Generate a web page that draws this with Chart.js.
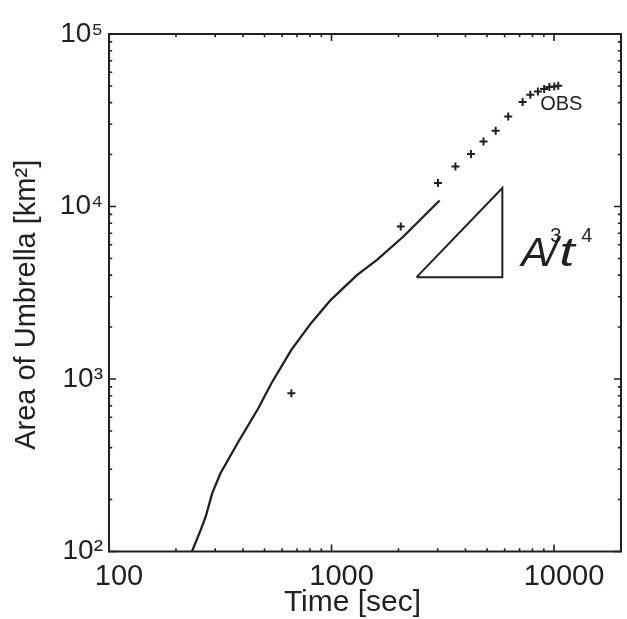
<!DOCTYPE html>
<html><head><meta charset="utf-8">
<script src="https://cdn.jsdelivr.net/npm/chart.js@4.4.0/dist/chart.umd.min.js"></script>
<style>html,body{margin:0;padding:0;background:#fff;overflow:hidden}#wrap{width:627px;height:619px}</style>
</head><body><div id="wrap"><canvas id="c" width="627" height="619"></canvas></div>
<script>
// ---- data ----
const modelTime = [236, 258, 272, 291, 317, 382, 469, 537, 660, 809, 993, 1305, 1601, 2104, 3061];
const modelArea = [100, 133, 159, 218, 284, 434, 677, 945, 1475, 2107, 2876, 4016, 4909, 6699, 10835];
const obsTime = [660, 2047, 3011, 3606, 4233, 4821, 5468, 6226, 7228, 7823, 8465, 9028, 9530, 10030, 10450];
const obsArea = [827, 7656, 13670, 17060, 20140, 23830, 27490, 33270, 40330, 44450, 46460, 47970, 49270, 49660, 50120];
const slopeTime = [2412, 5858, 5858, 2412];
const slopeArea = [3895, 12785, 3895, 3895];
const xTicks = [100, 1000, 10000];
const xTickLabels = ['100', '1000', '10000'];
const yTicks = [100, 1000, 10000, 100000];
const yTickLabels = ['10\u00B2', '10\u00B3', '10\u2074', '10\u2075'];

const INK = '#231f20';
const FONT = "'Liberation Sans', Arial, Helvetica, sans-serif";
const pts = (xs, ys) => xs.map((v, i) => ({x: v, y: ys[i]}));

const framePlugin = {
  id: 'frame',
  afterDatasetsDraw(chart) {
    const {ctx, chartArea: a, scales: {x, y}} = chart;
    ctx.save();
    ctx.strokeStyle = INK;
    ctx.lineWidth = 2;
    ctx.strokeRect(a.left, a.top, a.right - a.left, a.bottom - a.top);
    ctx.lineWidth = 1.6;
    ctx.beginPath();
    for (let k = 2; k <= 4; k++) for (let m = 1; m <= 9; m++) {
      const v = m * Math.pow(10, k);
      if (v < x.min || v > x.max) continue;
      const p = x.getPixelForValue(v), L = m === 1 ? 7 : 3.2;
      ctx.moveTo(p, a.bottom); ctx.lineTo(p, a.bottom - L);
      ctx.moveTo(p, a.top); ctx.lineTo(p, a.top + L);
    }
    for (let k = 2; k <= 5; k++) for (let m = 1; m <= 9; m++) {
      const v = m * Math.pow(10, k);
      if (v < y.min || v > y.max) continue;
      const p = y.getPixelForValue(v), L = m === 1 ? 7 : 3.2;
      ctx.moveTo(a.left, p); ctx.lineTo(a.left + L, p);
      ctx.moveTo(a.right, p); ctx.lineTo(a.right - L, p);
    }
    ctx.stroke();

    // annotations
    ctx.fillStyle = INK;
    ctx.textAlign = 'left';
    const ox = x.getPixelForValue(8664), oy = y.getPixelForValue(38900);
    ctx.font = "20px " + FONT;
    ctx.textBaseline = 'middle';
    ctx.fillText('OBS', ox, oy);

    ctx.textBaseline = 'alphabetic';
    const ax = x.getPixelForValue(7205), by = y.getPixelForValue(4500);
    ctx.font = "italic 41px " + FONT;
    ctx.fillText('A', ax - 1, by);
    ctx.fillText('/', ax + 24, by);
    ctx.save();
    ctx.translate(ax + 37, by);
    ctx.scale(1.35, 1);
    ctx.fillText('t', 0, 0);
    ctx.restore();
    ctx.font = "20px " + FONT;
    ctx.fillText('3', ax + 28, by - 24);
    ctx.fillText('4', ax + 59, by - 24);
    ctx.restore();
  }
};

new Chart(document.getElementById('c'), {
  type: 'scatter',
  data: {
    datasets: [
      {label: 'Model', data: pts(modelTime, modelArea), showLine: true, borderColor: INK, borderWidth: 2.3,
       pointRadius: 0, tension: 0, fill: false},
      {label: 'OBS', data: pts(obsTime, obsArea), showLine: false, pointStyle: 'cross', pointRadius: 4,
       borderColor: INK, backgroundColor: INK, borderWidth: 2},
      {label: 'Slope', data: pts(slopeTime, slopeArea), showLine: true, borderColor: INK, borderWidth: 2,
       pointRadius: 0, tension: 0, fill: false, borderJoinStyle: 'miter'}
    ]
  },
  options: {
    responsive: false, animation: false, devicePixelRatio: 1,
    layout: {padding: {top: 34, right: 1, left: 0, bottom: 0}},
    plugins: {legend: {display: false}, tooltip: {enabled: false}},
    scales: {
      x: {
        type: 'logarithmic', min: 100, max: 20000, position: 'bottom',
        afterBuildTicks: s => { s.ticks = xTicks.map(v => ({value: v})); },
        afterFit: s => { s.height = 67.5; },
        grid: {display: false, drawTicks: false}, border: {display: false},
        ticks: {
          callback: v => { const i = xTicks.indexOf(v); return i >= 0 ? xTickLabels[i] : ''; },
          font: {family: FONT, size: 29}, color: INK, padding: 8, labelOffset: 10,
          maxRotation: 0, autoSkip: false
        },
        title: {display: true, text: 'Time [sec]   ', font: {family: FONT, size: 30, lineHeight: 1},
                color: INK, padding: {top: 0, bottom: 1.5}}
      },
      y: {
        type: 'logarithmic', min: 100, max: 100000, position: 'left',
        afterBuildTicks: s => { s.ticks = yTicks.map(v => ({value: v})); },
        afterFit: s => { s.width = 109; },
        grid: {display: false, drawTicks: false}, border: {display: false},
        ticks: {
          callback: v => { const i = yTicks.indexOf(v); return i >= 0 ? yTickLabels[i] : ''; },
          font: {family: FONT, size: 28}, color: INK, padding: 6, autoSkip: false
        },
        title: {display: true, text: 'Area of Umbrella [km\u00B2]   ', font: {family: FONT, size: 29, lineHeight: 1},
                color: INK, padding: {top: 12.2, bottom: 0}}
      }
    }
  },
  plugins: [framePlugin]
});
</script>
</body></html>
